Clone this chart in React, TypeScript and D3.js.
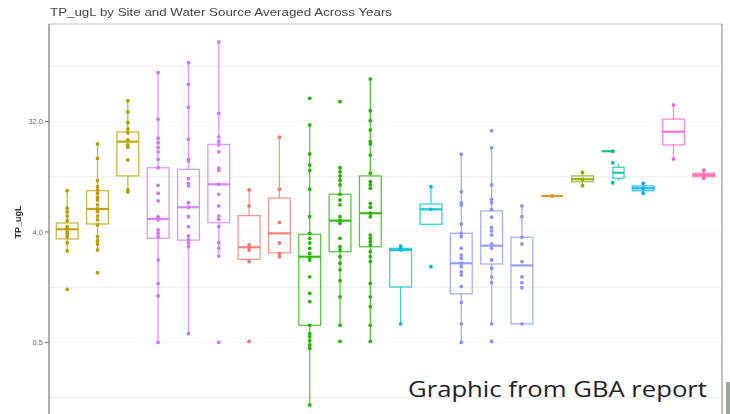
import React from "react";
import * as d3 from "d3";

// ---- data ----
const sites = [
  "S01", "S02", "S03", "S04", "S05", "S06", "S07", "S08", "S09", "S10", "S11",
  "S12", "S13", "S14", "S15", "S16", "S17", "S18", "S19", "S20", "S21", "S22",
];

// one entry per box (site 19 holds two dodged boxes)
const boxSite = [
  "S01", "S02", "S03", "S04", "S05", "S06", "S07", "S08", "S09", "S10", "S11",
  "S12", "S13", "S14", "S15", "S16", "S17", "S18", "S19", "S19", "S20", "S21", "S22",
];
const boxDodge = [0, 0, 0, 0, 0, 0, 0, 0, 0, 0, 0, 0, 0, 0, 0, 0, 0, 0, -1, 1, 0, 0, 0];
const boxColor = [
  "#BE9C00", "#BE9C00", "#BE9C00",
  "#D575FE", "#D575FE", "#D575FE",
  "#F8766D", "#F8766D",
  "#24B700", "#24B700", "#24B700",
  "#00BBDA", "#00BBDA",
  "#8B93FF", "#8B93FF", "#8B93FF",
  "#E18A00", "#8CAB00", "#00BE70", "#00C1AB", "#00ACFC", "#F962DD", "#FF65AC",
];
const whiskerHigh = [8.7, 20.95, 47.3, 80.2, 96.8, 143, 8.82, 23.8, 30.0, 13.4, 71.2, 3.07, 9.38, 17.3, 19.5, 6.53, 7.87, 12.3, 18.3, 14.4, 10.0, 43.7, 12.8];
const q3 = [4.74, 8.7, 26.3, 13.4, 13.0, 20.8, 5.44, 7.58, 3.83, 8.13, 11.5, 2.94, 6.77, 3.9, 5.94, 3.62, 7.87, 11.5, 18.3, 13.5, 9.51, 33.5, 12.1];
const median = [4.21, 6.17, 21.9, 5.11, 6.37, 9.81, 3.0, 3.9, 2.51, 4.95, 5.69, 2.85, 6.13, 2.22, 3.09, 2.13, 7.87, 10.8, 18.3, 12.2, 9.1, 26.4, 11.7];
const q1 = [3.51, 4.65, 11.5, 3.55, 3.43, 4.76, 2.39, 2.7, 0.69, 2.76, 3.03, 1.42, 4.62, 1.25, 2.19, 0.71, 7.87, 10.3, 18.3, 11.0, 8.7, 20.6, 11.3];
const whiskerLow = [2.8, 2.85, 8.49, 0.5, 0.59, 2.54, 2.29, 2.51, 0.154, 0.69, 0.51, 0.71, 4.62, 0.5, 0.71, 0.71, 7.87, 9.56, 18.3, 10.5, 8.29, 15.8, 11.0];
const observations: number[][] = [
  [8.7, 6.25, 5.83, 5.4, 4.95, 4.42, 4.29, 4.03, 3.85, 3.66, 3.27, 2.8, 1.36],
  [20.95, 16.0, 10.5, 9.38, 8.82, 8.29, 7.69, 7.3, 6.65, 6.17, 5.86, 5.4, 5.02, 4.56, 3.66, 3.39, 3.19, 2.85, 1.86],
  [47.3, 38.3, 31.4, 27.8, 25.8, 22.6, 20.6, 19.7, 15.5, 8.82, 8.49],
  [80.2, 33.4, 23.3, 21.5, 19.7, 18.1, 15.7, 13.4, 9.63, 8.29, 7.17, 5.33, 5.18, 5.02, 4.15, 3.9, 3.66, 2.36, 1.52, 1.2, 0.5],
  [96.8, 64.5, 41.8, 22.9, 15.7, 15.2, 10.9, 10.0, 9.51, 6.94, 6.37, 5.33, 4.42, 3.72, 3.47, 3.25, 3.03, 0.59],
  [143, 37.3, 24.0, 21.9, 20.6, 18.1, 13.3, 12.7, 9.81, 8.13, 6.53, 5.4, 5.08, 4.42, 3.27, 2.94, 2.54, 0.5],
  [8.82, 6.53, 3.13, 3.0, 2.85, 2.29, 0.51],
  [23.8, 8.94, 4.8, 3.25, 2.67, 2.51],
  [49.5, 30.0, 17.4, 14.1, 12.7, 8.94, 5.33, 3.9, 3.55, 3.25, 2.94, 2.67, 2.48, 2.36, 1.72, 1.26, 1.08, 0.69, 0.59, 0.557, 0.517, 0.477, 0.448, 0.154],
  [46.5, 13.4, 12.4, 11.5, 10.6, 9.69, 8.13, 7.3, 6.65, 5.33, 4.95, 4.71, 3.55, 3.03, 2.85, 2.51, 2.22, 1.96, 1.6, 1.18, 0.69, 0.51],
  [71.2, 39.2, 32.5, 27.3, 21.9, 20.95, 17.0, 12.1, 10.3, 9.69, 9.1, 6.86, 6.37, 5.69, 5.33, 3.77, 3.55, 3.33, 3.13, 2.76, 2.51, 2.29, 1.52, 1.18, 0.98, 0.69, 0.51],
  [3.07, 2.94, 2.85, 0.71],
  [9.38, 6.13, 2.08],
  [17.3, 8.54, 6.94, 6.65, 4.65, 3.9, 3.66, 2.94, 2.59, 2.44, 2.22, 2.08, 1.89, 1.78, 1.43, 1.06, 0.71, 0.5],
  [26.9, 19.5, 9.69, 7.4, 6.94, 6.13, 5.28, 4.36, 4.08, 3.77, 3.19, 2.94, 2.36, 2.02, 1.72, 1.54, 0.71, 0.51],
  [6.53, 5.33, 3.62, 3.19, 2.29, 1.72, 1.54, 1.4, 0.71],
  [7.87],
  [12.3, 10.8, 9.56],
  [18.3],
  [14.7, 10.1],
  [10.0, 9.1, 8.29],
  [43.7, 15.8],
  [12.8, 11.7, 11.0],
];
const yTicks = [0.5, 4, 32];
const yMinor = [0.177, 1.414, 11.31, 90.5];
const titleText = "TP_ugL by Site and Water Source Averaged Across Years";
const yLabel = "TP_ugL";
const creditText = "Graphic from GBA report";

// ---- layout ----
const W = 730;
const H = 414;
const P = { left: 49, right: 722, top: 24, bottom: 414 };

export default function App() {
  const x = d3.scalePoint<string>().domain(sites).range([P.left, P.right]).padding(0.6);
  const step = x.step();
  const y = d3.scaleLog().base(2).domain([0.13, 200.6]).range([P.bottom, P.top]);
  const fmt = d3.format(".1f");

  const boxes = boxSite.map((s, i) => {
    const dodged = boxDodge[i] !== 0;
    const w = dodged ? step * 0.37 : step * 0.72;
    const cx = (x(s) as number) + boxDodge[i] * step * 0.185;
    return { i, s, w, cx, color: boxColor[i] };
  });

  return (
    <svg
      width={W}
      height={H}
      style={{ position: "absolute", left: 0, top: 0, background: "#fff" }}
      fontFamily="'Liberation Sans', Arial, sans-serif"
    >
      <defs>
        <filter id="soft" x="-5%" y="-5%" width="110%" height="110%">
          <feGaussianBlur stdDeviation="0.5" />
        </filter>
      </defs>
      <rect x={0} y={0} width={W} height={H} fill="#fff" />
      <g filter="url(#soft)">
        <text x={50} y={16} fontSize={11.5} fill="#444" textLength={342} lengthAdjust="spacingAndGlyphs">
          {titleText}
        </text>
        {/* grid */}
        {yMinor.map((v) => (
          <line key={"m" + v} x1={P.left} x2={P.right} y1={y(v)} y2={y(v)} stroke="#ececec" strokeWidth={1} />
        ))}
        {yTicks.map((v) => (
          <line key={"g" + v} x1={P.left} x2={P.right} y1={y(v)} y2={y(v)} stroke="#f6f6f6" strokeWidth={1} />
        ))}
        {/* panel border */}
        <line x1={P.left} x2={P.right} y1={P.top} y2={P.top} stroke="#c4c4c4" strokeWidth={1.2} />
        <line x1={P.left} x2={P.left} y1={P.top} y2={P.bottom} stroke="#8c8c8c" strokeWidth={1.4} />
        <line x1={P.right} x2={P.right} y1={P.top} y2={P.bottom} stroke="#b0b0b0" strokeWidth={1.6} />
        {/* y axis */}
        {yTicks.map((v) => (
          <g key={"t" + v}>
            <line x1={P.left - 4} x2={P.left} y1={y(v)} y2={y(v)} stroke="#777" strokeWidth={1} />
            <text x={P.left - 6} y={y(v) + 2.7} fontSize={7.5} fill="#666" textAnchor="end">
              {fmt(v)}
            </text>
          </g>
        ))}
        <text
          transform={`translate(${21},${222}) rotate(-90)`}
          fontSize={9}
          fontWeight="bold"
          fill="#333"
          textAnchor="middle"
        >
          {yLabel}
        </text>
        {/* boxes */}
        {boxes.map((b) => {
          const i = b.i;
          const yHi = y(whiskerHigh[i]);
          const yQ3 = y(q3[i]);
          const yMed = y(median[i]);
          const yQ1 = y(q1[i]);
          const yLo = y(whiskerLow[i]);
          return (
            <g key={"b" + i} stroke={b.color} fill="none" strokeOpacity={0.75}>
              <line x1={b.cx} x2={b.cx} y1={yHi} y2={yQ3} strokeWidth={1.3} />
              <line x1={b.cx} x2={b.cx} y1={yQ1} y2={yLo} strokeWidth={1.3} />
              <rect x={b.cx - b.w / 2} y={yQ3} width={b.w} height={Math.max(0, yQ1 - yQ3)} strokeWidth={1.3} />
              <line x1={b.cx - b.w / 2} x2={b.cx + b.w / 2} y1={yMed} y2={yMed} strokeWidth={2.2} strokeOpacity={0.9} />
            </g>
          );
        })}
        {/* observations */}
        {boxes.map((b) => (
          <g key={"p" + b.i} fill={b.color}>
            {observations[b.i].map((v, j) => (
              <circle key={j} cx={x(b.s) as number} cy={y(v)} r={1.9} />
            ))}
          </g>
        ))}
      </g>
      <rect x={726} y={382} width={4} height={32} fill="#9aaa9a" />
      <text
        x={408}
        y={397}
        fontFamily="'Open Sans', sans-serif"
        fontSize={22}
        fill="#222"
        textLength={299}
        lengthAdjust="spacingAndGlyphs"
      >
        {creditText}
      </text>
    </svg>
  );
}
